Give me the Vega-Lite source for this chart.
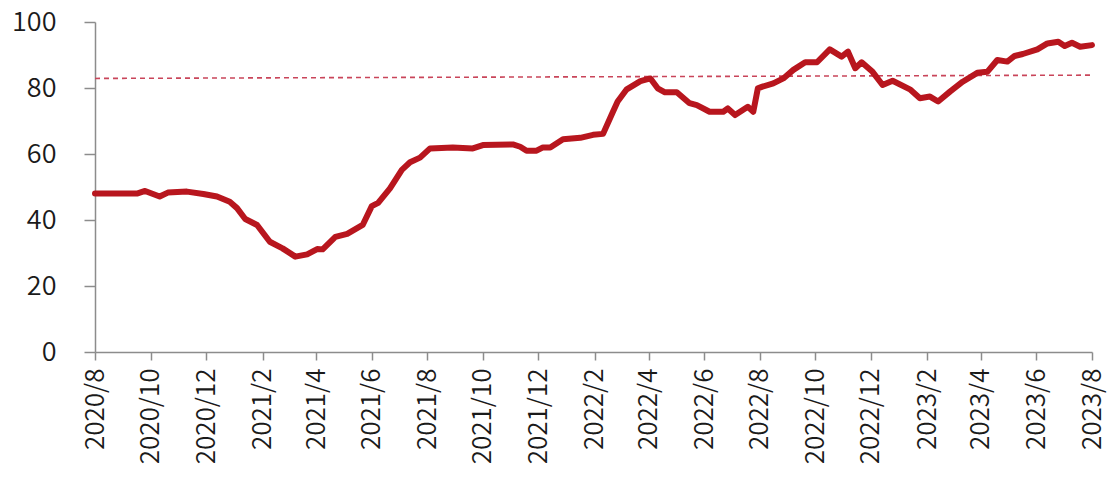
{
  "$schema": "https://vega.github.io/schema/vega-lite/v6.json",
  "autosize": "none",
  "width": 997,
  "height": 330,
  "padding": {"left": 95, "top": 22, "right": 15, "bottom": 127},
  "background": "white",
  "config": {
    "view": {"stroke": null},
    "axis": {
      "labelFont": "Noto Sans CJK SC",
      "labelFontWeight": 350,
      "labelColor": "#1a1a1a",
      "domainColor": "#8c8c8c",
      "domainWidth": 1.5,
      "tickColor": "#8c8c8c",
      "tickWidth": 1.5,
      "grid": false,
      "title": null
    }
  },
  "datasets": {
    "series": [
      {"date": "2020-08-01", "value": 48.0},
      {"date": "2020-08-23", "value": 48.0},
      {"date": "2020-09-16", "value": 48.0},
      {"date": "2020-09-25", "value": 48.8},
      {"date": "2020-10-11", "value": 47.1},
      {"date": "2020-10-20", "value": 48.3},
      {"date": "2020-11-10", "value": 48.6},
      {"date": "2020-11-28", "value": 47.9},
      {"date": "2020-12-13", "value": 47.1},
      {"date": "2020-12-27", "value": 45.5},
      {"date": "2021-01-04", "value": 43.6},
      {"date": "2021-01-13", "value": 40.3},
      {"date": "2021-01-26", "value": 38.5},
      {"date": "2021-02-09", "value": 33.4},
      {"date": "2021-02-23", "value": 31.4},
      {"date": "2021-03-09", "value": 28.9},
      {"date": "2021-03-22", "value": 29.6},
      {"date": "2021-04-02", "value": 31.2},
      {"date": "2021-04-08", "value": 31.1},
      {"date": "2021-04-22", "value": 34.9},
      {"date": "2021-05-05", "value": 35.8},
      {"date": "2021-05-22", "value": 38.5},
      {"date": "2021-06-01", "value": 44.2},
      {"date": "2021-06-08", "value": 45.2},
      {"date": "2021-06-21", "value": 49.6},
      {"date": "2021-07-04", "value": 55.2},
      {"date": "2021-07-13", "value": 57.5},
      {"date": "2021-07-24", "value": 58.9},
      {"date": "2021-08-04", "value": 61.7},
      {"date": "2021-08-29", "value": 62.0},
      {"date": "2021-09-20", "value": 61.7},
      {"date": "2021-10-01", "value": 62.7},
      {"date": "2021-11-03", "value": 62.9},
      {"date": "2021-11-11", "value": 62.2},
      {"date": "2021-11-18", "value": 61.0},
      {"date": "2021-11-29", "value": 61.0},
      {"date": "2021-12-06", "value": 62.0},
      {"date": "2021-12-14", "value": 62.0},
      {"date": "2021-12-28", "value": 64.5},
      {"date": "2022-01-16", "value": 64.9},
      {"date": "2022-01-30", "value": 65.8},
      {"date": "2022-02-10", "value": 66.1},
      {"date": "2022-02-20", "value": 72.3},
      {"date": "2022-02-26", "value": 75.9},
      {"date": "2022-03-08", "value": 79.6},
      {"date": "2022-03-23", "value": 82.1},
      {"date": "2022-04-03", "value": 82.9},
      {"date": "2022-04-11", "value": 79.9},
      {"date": "2022-04-19", "value": 78.7},
      {"date": "2022-05-02", "value": 78.7},
      {"date": "2022-05-16", "value": 75.4},
      {"date": "2022-05-24", "value": 74.8},
      {"date": "2022-06-07", "value": 72.8},
      {"date": "2022-06-22", "value": 72.8},
      {"date": "2022-06-27", "value": 73.8},
      {"date": "2022-07-05", "value": 71.8},
      {"date": "2022-07-19", "value": 74.3},
      {"date": "2022-07-25", "value": 72.8},
      {"date": "2022-07-30", "value": 79.9},
      {"date": "2022-08-04", "value": 80.4},
      {"date": "2022-08-16", "value": 81.4},
      {"date": "2022-08-27", "value": 82.9},
      {"date": "2022-09-07", "value": 85.5},
      {"date": "2022-09-20", "value": 87.8},
      {"date": "2022-10-03", "value": 87.8},
      {"date": "2022-10-17", "value": 91.7},
      {"date": "2022-10-30", "value": 89.5},
      {"date": "2022-11-06", "value": 91.0},
      {"date": "2022-11-14", "value": 86.0},
      {"date": "2022-11-21", "value": 87.8},
      {"date": "2022-12-03", "value": 84.9},
      {"date": "2022-12-14", "value": 80.9},
      {"date": "2022-12-25", "value": 82.2},
      {"date": "2023-01-13", "value": 79.6},
      {"date": "2023-01-24", "value": 76.9},
      {"date": "2023-02-04", "value": 77.4},
      {"date": "2023-02-13", "value": 75.9},
      {"date": "2023-02-26", "value": 78.9},
      {"date": "2023-03-12", "value": 81.9},
      {"date": "2023-03-28", "value": 84.6},
      {"date": "2023-04-08", "value": 84.9},
      {"date": "2023-04-19", "value": 88.5},
      {"date": "2023-04-30", "value": 88.0},
      {"date": "2023-05-08", "value": 89.7},
      {"date": "2023-05-17", "value": 90.3},
      {"date": "2023-06-02", "value": 91.7},
      {"date": "2023-06-13", "value": 93.5},
      {"date": "2023-06-25", "value": 94.0},
      {"date": "2023-07-02", "value": 92.7},
      {"date": "2023-07-10", "value": 93.7},
      {"date": "2023-07-19", "value": 92.5},
      {"date": "2023-08-01", "value": 93.0}
    ],
    "reference": [
      {"date": "2020-08-01", "value": 82.9},
      {"date": "2023-08-01", "value": 83.9}
    ]
  },
  "encoding": {
    "x": {
      "field": "date",
      "type": "temporal",
      "scale": {
        "type": "utc",
        "domain": [
          {"year": 2020, "month": 8, "date": 1, "utc": true},
          {"year": 2023, "month": 8, "date": 1, "utc": true}
        ]
      },
      "axis": {
        "values": [
          {"year": 2020, "month": 8, "date": 1, "utc": true},
          {"year": 2020, "month": 10, "date": 1, "utc": true},
          {"year": 2020, "month": 12, "date": 1, "utc": true},
          {"year": 2021, "month": 2, "date": 1, "utc": true},
          {"year": 2021, "month": 4, "date": 1, "utc": true},
          {"year": 2021, "month": 6, "date": 1, "utc": true},
          {"year": 2021, "month": 8, "date": 1, "utc": true},
          {"year": 2021, "month": 10, "date": 1, "utc": true},
          {"year": 2021, "month": 12, "date": 1, "utc": true},
          {"year": 2022, "month": 2, "date": 1, "utc": true},
          {"year": 2022, "month": 4, "date": 1, "utc": true},
          {"year": 2022, "month": 6, "date": 1, "utc": true},
          {"year": 2022, "month": 8, "date": 1, "utc": true},
          {"year": 2022, "month": 10, "date": 1, "utc": true},
          {"year": 2022, "month": 12, "date": 1, "utc": true},
          {"year": 2023, "month": 2, "date": 1, "utc": true},
          {"year": 2023, "month": 4, "date": 1, "utc": true},
          {"year": 2023, "month": 6, "date": 1, "utc": true},
          {"year": 2023, "month": 8, "date": 1, "utc": true}
        ],
        "format": "%Y/%-m",
        "labelAngle": -90,
        "labelFontSize": 26,
        "tickSize": 8,
        "labelPadding": 8,
        "labelOverlap": false,
        "labelBound": false,
        "labelFlush": false
      }
    },
    "y": {
      "field": "value",
      "type": "quantitative",
      "scale": {"domain": [0, 100], "nice": false, "zero": true},
      "axis": {
        "values": [0, 20, 40, 60, 80, 100],
        "labelFontSize": 27,
        "tickSize": 11,
        "labelPadding": 28,
        "labelFlush": false
      }
    }
  },
  "layer": [
    {
      "data": {"name": "reference"},
      "mark": {
        "type": "line",
        "color": "#c9455a",
        "strokeWidth": 1.6,
        "strokeDash": [5, 4],
        "clip": true
      }
    },
    {
      "data": {"name": "series"},
      "mark": {
        "type": "line",
        "color": "#b8161e",
        "strokeWidth": 6,
        "strokeJoin": "round",
        "strokeCap": "round"
      }
    }
  ]
}
